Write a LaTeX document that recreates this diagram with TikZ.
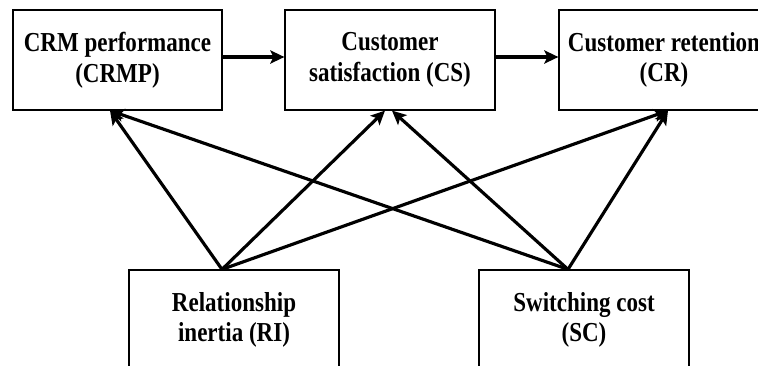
\documentclass[tikz,border=0pt]{standalone}
\usepackage{fontspec}
\setmainfont{Liberation Serif}[FakeStretch=0.84]
\usetikzlibrary{arrows.meta}

\begin{document}
\begin{tikzpicture}
	[box/.style={rectangle,draw=black,line width=0.7pt,
minimum width=4.2cm,minimum height=2.0cm,inner sep=0pt,align=center,
font=\fontsize{15.6}{17.4}\selectfont\bfseries},
	link/.style={-{Stealth[length=8pt,width=7.5pt,inset=1.8pt]},line width=1.8pt}]
	\useasboundingbox (0,0) rectangle (15.16,-7.3);
	\node at (2.35, -1.2) (crmp) [box,minimum width=4.18cm] {CRM performance\\(CRMP)};
	\node at (7.8, -1.2) (cs) [box] {Customer\\satisfaction (CS)};
	\node at (13.28, -1.2) (cr) [box] {Customer retention\\(CR)};
	\node at (4.68, -6.4) (ri) [box] {Relationship\\inertia (RI)};
	\node at (11.68, -6.4) (sc) [box] {Switching cost\\(SC)};
	% top row
	\draw [link] ([yshift=0.06cm]crmp.east) -- ([yshift=0.06cm]cs.west);
	\draw [link] ([yshift=0.06cm]cs.east) -- ([yshift=0.06cm]cr.west);
	% from relationship inertia
	\draw [link] ([xshift=-0.24cm]ri.north) -- ([xshift=-0.15cm]crmp.south);
	\draw [link] ([xshift=-0.24cm]ri.north) -- ([xshift=-0.1cm]cs.south);
	\draw [link] ([xshift=-0.24cm]ri.north) -- ([xshift=0.08cm]cr.south);
	% from switching cost
	\draw [link] ([xshift=-0.32cm]sc.north) -- ([xshift=-0.15cm]crmp.south);
	\draw [link] ([xshift=-0.32cm]sc.north) -- ([xshift=0.04cm]cs.south);
	\draw [link] ([xshift=-0.32cm]sc.north) -- ([xshift=0.08cm]cr.south);
\end{tikzpicture}
\end{document}
